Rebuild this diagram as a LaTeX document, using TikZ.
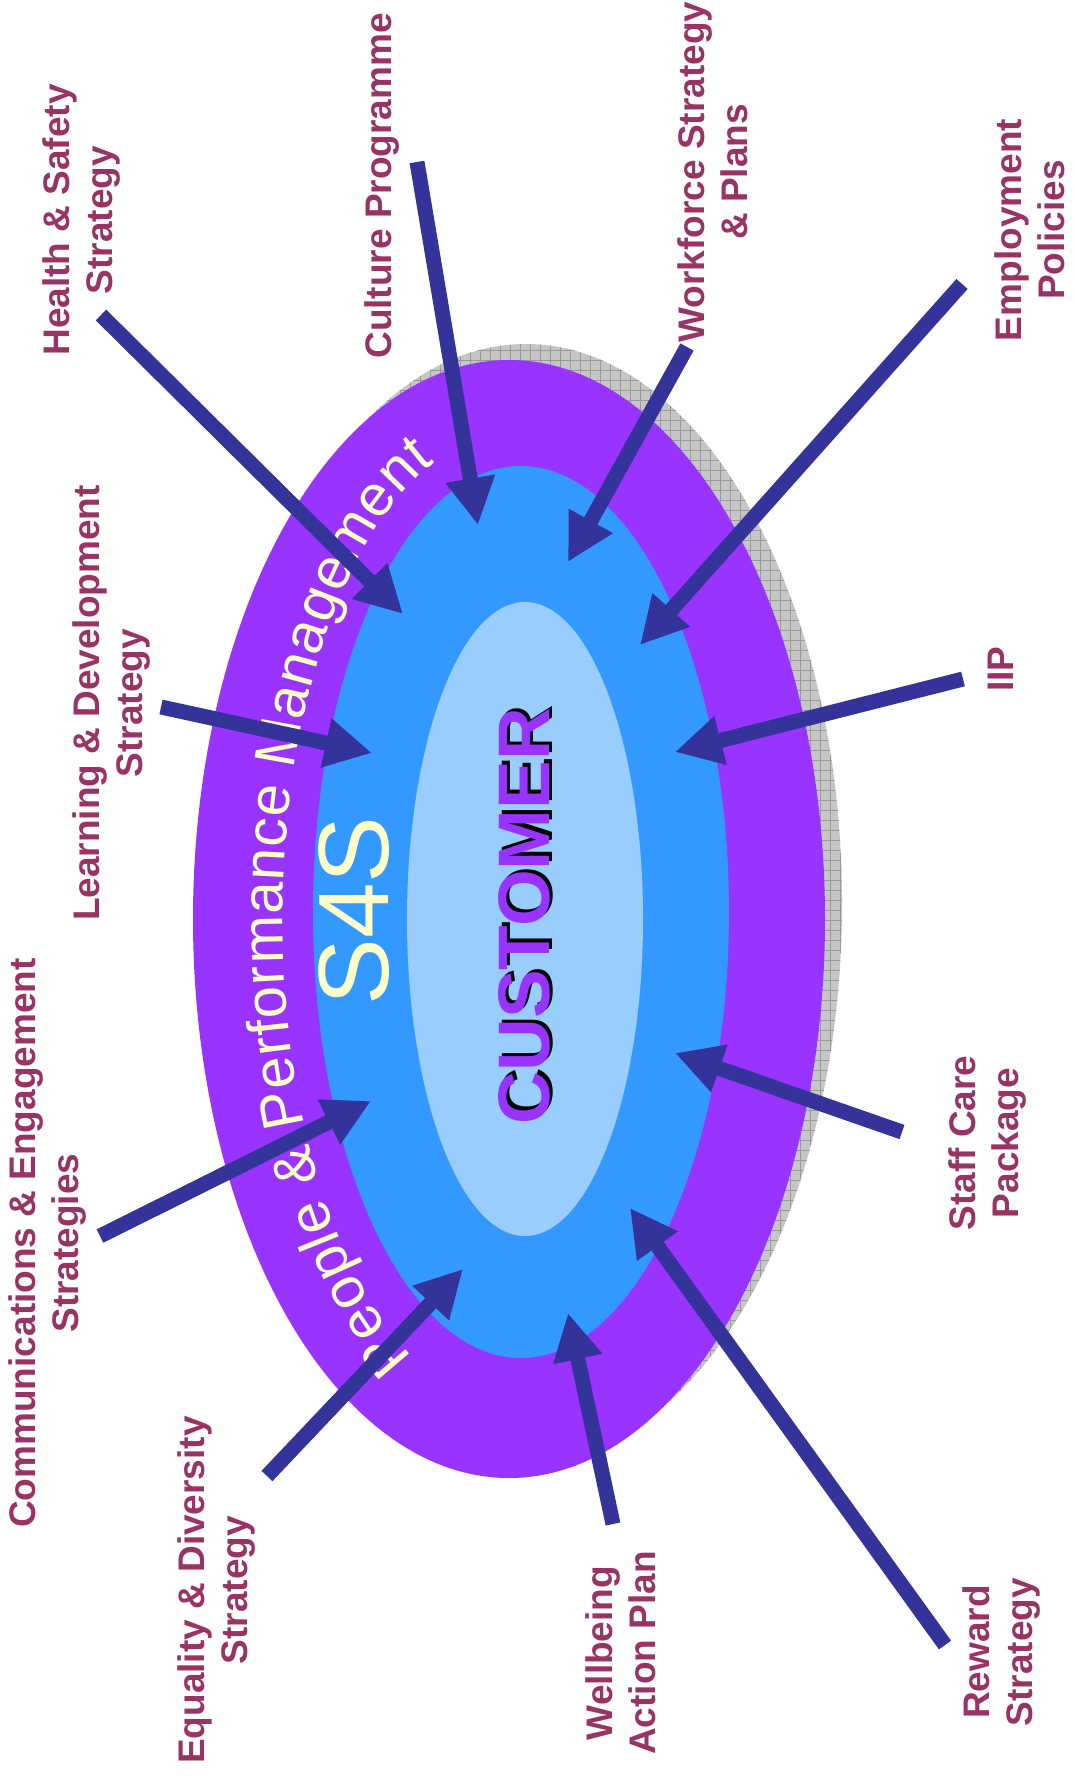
\documentclass[tikz,border=0pt]{standalone}
\usepackage{fontspec}
\setmainfont{Liberation Sans}
\usetikzlibrary{arrows.meta,decorations.text}

\definecolor{ringviolet}{HTML}{9933FF}
\definecolor{midblue}{HTML}{3399FF}
\definecolor{paleblue}{HTML}{99CCFF}
\definecolor{arrowblue}{HTML}{333399}
\definecolor{plum}{HTML}{993366}
\definecolor{cream}{HTML}{FFFFCC}

\begin{document}
\begin{tikzpicture}[x=1pt,y=-1pt,
  lbl/.style={text=plum,font=\bfseries\fontsize{37}{43}\selectfont,align=center,rotate=90,inner sep=0pt},
  feed/.style={draw=arrowblue,line width=15pt,-{Triangle[length=47pt,width=47pt]}}]
\useasboundingbox (0,0) rectangle (1075,1780);

% shadow
\begin{scope}
\clip (526,903) ellipse [x radius=316,y radius=559];
\fill[gray!45] (200,330) rectangle (860,1480);
\foreach \g in {200,210,...,860} \draw[gray!80,line width=1pt] (\g,330) -- (\g,1480);
\foreach \g in {330,340,...,1480} \draw[gray!80,line width=1pt] (200,\g) -- (860,\g);
\end{scope}

\fill[ringviolet] (509,919) ellipse [x radius=316,y radius=559];
\fill[midblue] (521,912) ellipse [x radius=208,y radius=446];
\fill[paleblue] (525,919) ellipse [x radius=118,y radius=317];

\path[decorate,decoration={text along path,text align=fit to path,text color=cream,
  text={|\fontsize{58}{58}\selectfont|People {\&} Performance Management}}]
  (509,919) ++(115:226 and 483) arc [start angle=115,end angle=251,x radius=226,y radius=483];

\node (s4s) at (354,911) [rotate=90,inner sep=0pt,text=cream,font=\fontsize{100}{100}\selectfont] {S4S};
\node (custshadow) at (527.5,912.5) [rotate=90,inner sep=0pt,text=black,font=\bfseries\fontsize{73}{73}\selectfont] {CUSTOMER};
\node (cust) at (524,916) [rotate=90,inner sep=0pt,text=ringviolet,font=\bfseries\fontsize{73}{73}\selectfont] {CUSTOMER};

\node (hs) at (82,220) [lbl] {Health \& Safety\\Strategy};
\node (cult) at (382,186) [lbl] {Culture Programme};
\node (wf) at (713,172) [lbl] {Workforce Strategy\\\& Plans};
\node (emp) at (1030,230) [lbl] {Employment\\Policies};
\node (iip) at (1001,669) [lbl] {IIP};
\node (care) at (988,1143) [lbl] {Staff Care\\Package};
\node (rew) at (1002,1652) [lbl] {Reward\\Strategy};
\node (well) at (621,1653) [lbl] {Wellbeing\\Action Plan};
\node (eqd) at (217,1590) [lbl] {Equality \& Diversity\\Strategy};
\node (comm) at (48,1243) [lbl] {Communications \& Engagement\\Strategies};
\node (ld) at (112,703) [lbl] {Learning \& Development\\Strategy};

\coordinate (hs-t) at (101,315);    \coordinate (hs-h) at (403,614);
\coordinate (cult-t) at (417,162);  \coordinate (cult-h) at (478,525);
\coordinate (wf-t) at (687,347);    \coordinate (wf-h) at (568,562);
\coordinate (emp-t) at (962,284);   \coordinate (emp-h) at (640,645);
\coordinate (iip-t) at (963,679);   \coordinate (iip-h) at (675,752);
\coordinate (care-t) at (902,1132); \coordinate (care-h) at (675,1053);
\coordinate (rew-t) at (945,1645);  \coordinate (rew-h) at (630,1208);
\coordinate (well-t) at (613,1524); \coordinate (well-h) at (568,1313);
\coordinate (eqd-t) at (267,1476);  \coordinate (eqd-h) at (463,1269);
\coordinate (comm-t) at (100,1236); \coordinate (comm-h) at (371,1101);
\coordinate (ld-t) at (161,707);    \coordinate (ld-h) at (372,753);

\foreach \a in {hs,cult,wf,emp,iip,care,rew,well,eqd,comm,ld}
  \draw[feed] (\a-t) -- (\a-h);

\end{tikzpicture}
\end{document}
